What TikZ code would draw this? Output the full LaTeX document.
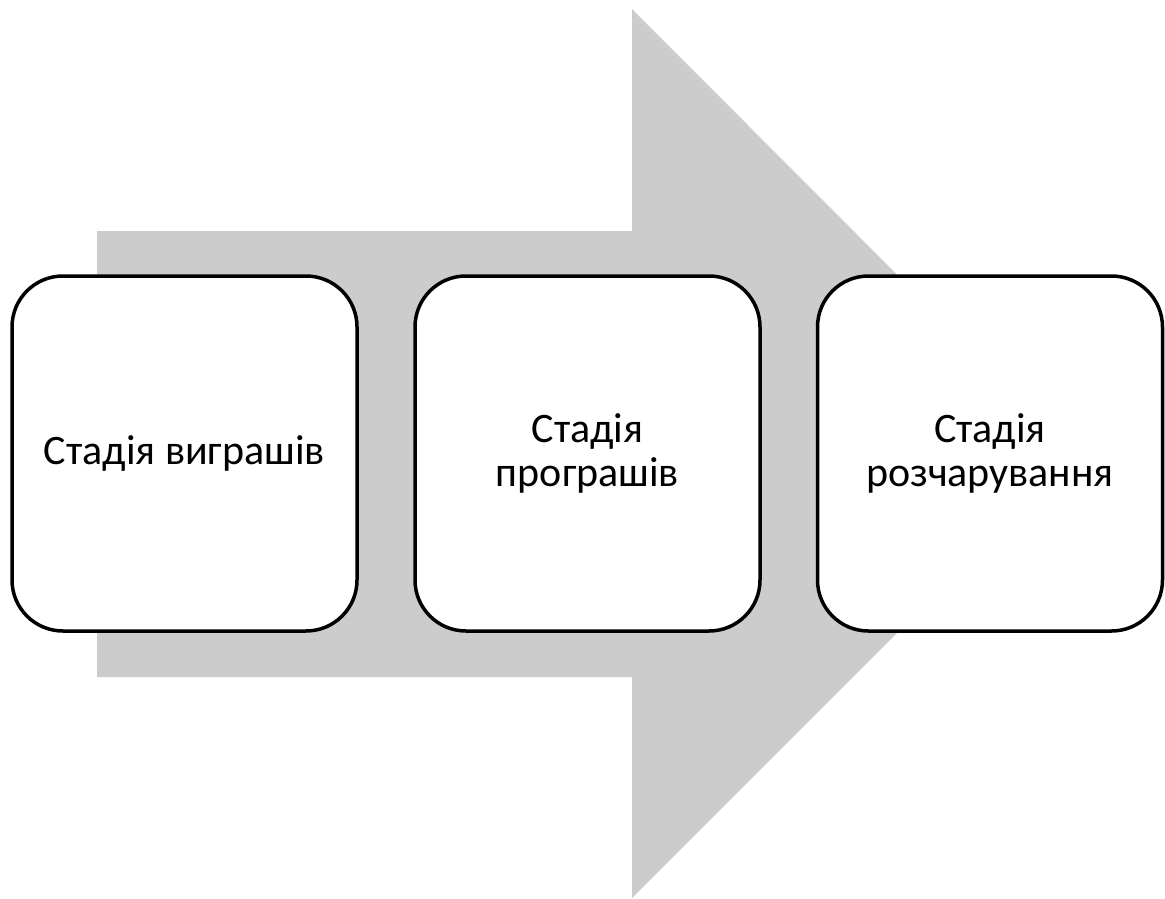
\documentclass[tikz,border=0pt]{standalone}
\usepackage{fontspec}
\setmainfont{Carlito}
\definecolor{arrowgray}{HTML}{CCCCCC}
\tikzset{
  stagebox/.style={draw=black, fill=white, line width=3.5pt, rounded corners=51pt,
    minimum width=345pt, minimum height=355pt, align=center, inner sep=0pt,
    font=\fontsize{42}{44}\selectfont},
}
\begin{document}
\begin{tikzpicture}[x=1pt,y=-1pt]
\useasboundingbox (0,0) rectangle (1165,899);
\fill[arrowgray] (97,231) -- (632,231) -- (632,9) -- (1076,454) -- (632,898) -- (632,677) -- (97,677) -- cycle;
\node[stagebox] (s1) at (184.5,453.5) {Стадія виграшів};
\node[stagebox] (s2) at (587.5,453.5) {Стадія\\програшів};
\node[stagebox] (s3) at (990,453.5) {Стадія\\розчарування};
\end{tikzpicture}
\end{document}
